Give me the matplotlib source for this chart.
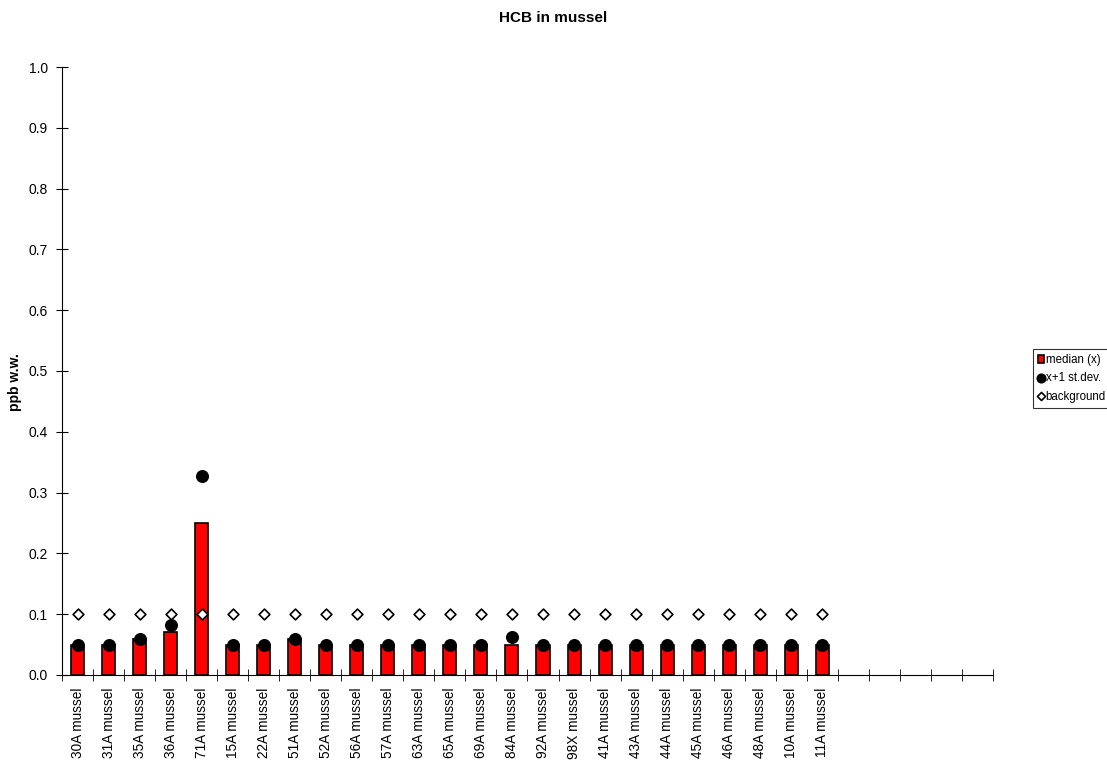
import matplotlib
matplotlib.use('Agg')
import matplotlib.pyplot as plt
import numpy as np

plt.rcParams['font.family'] = ['Liberation Sans', 'DejaVu Sans']

stations = ['30A mussel', '31A mussel', '35A mussel', '36A mussel', '71A mussel',
            '15A mussel', '22A mussel', '51A mussel', '52A mussel', '56A mussel',
            '57A mussel', '63A mussel', '65A mussel', '69A mussel', '84A mussel',
            '92A mussel', '98X mussel', '41A mussel', '43A mussel', '44A mussel',
            '45A mussel', '46A mussel', '48A mussel', '10A mussel', '11A mussel']
median = [0.05, 0.05, 0.06, 0.07, 0.25, 0.05, 0.05, 0.06, 0.05, 0.05,
          0.05, 0.05, 0.05, 0.05, 0.05, 0.05, 0.05, 0.05, 0.05, 0.05,
          0.05, 0.05, 0.05, 0.05, 0.05]
sd_upper = [0.05, 0.05, 0.06, 0.082, 0.327, 0.05, 0.05, 0.06, 0.05, 0.05,
            0.05, 0.05, 0.05, 0.05, 0.062, 0.05, 0.05, 0.05, 0.05, 0.05,
            0.05, 0.05, 0.05, 0.05, 0.05]
background = [0.1] * 25
n_slots = 30

fig = plt.figure(figsize=(11.07, 7.64), dpi=100)
ax = fig.add_axes([0.056, 0.1165, 0.841, 0.7958])

x = np.arange(len(stations))
h1 = ax.bar(x, median, width=0.42, color='#ff0000', edgecolor='black', linewidth=1.2,
            label='median (x)', zorder=2)
h2 = ax.scatter(x, sd_upper, s=70, color='black', marker='o', label='x+1 st.dev.', zorder=3)
h3 = ax.scatter(x, background, s=30, facecolor='white', edgecolor='black', marker='D',
                linewidth=1.2, label='background', zorder=4)

ax.set_xlim(-0.5, n_slots - 0.5)
ax.set_ylim(0, 1.0)
ax.set_yticks(np.arange(0, 1.01, 0.1))
ax.set_yticklabels(['%.1f' % v for v in np.arange(0, 1.01, 0.1)], fontsize=10)
ax.set_xticks(x)
ax.set_xticklabels(stations, rotation=90, fontsize=9.8)
ax.tick_params(axis='x', length=0, pad=9)
ax.set_xticks(np.arange(-0.5, n_slots, 1.0), minor=True)
ax.tick_params(axis='x', which='minor', direction='inout', length=8)
ax.tick_params(axis='y', direction='inout', length=8, pad=6)

for side in ['top', 'right']:
    ax.spines[side].set_visible(False)

fig.text(0.014, 0.5, 'ppb w.w.', fontsize=10, fontweight='bold', rotation=90,
         ha='center', va='center')
fig.suptitle('HCB in mussel', fontsize=11, fontweight='bold', y=0.985)

leg = fig.legend([h1, h2, h3], ['median (x)', 'x+1 st.dev.', 'background'],
                 loc='center left', bbox_to_anchor=(0.933, 0.505), fontsize=8.3,
                 frameon=True, fancybox=False, edgecolor='black',
                 handlelength=0.5, handletextpad=0.15, borderpad=0.45,
                 labelspacing=0.55, borderaxespad=0, markerscale=0.75)
leg.get_frame().set_linewidth(0.8)

fig.savefig('out.png', dpi=100)
